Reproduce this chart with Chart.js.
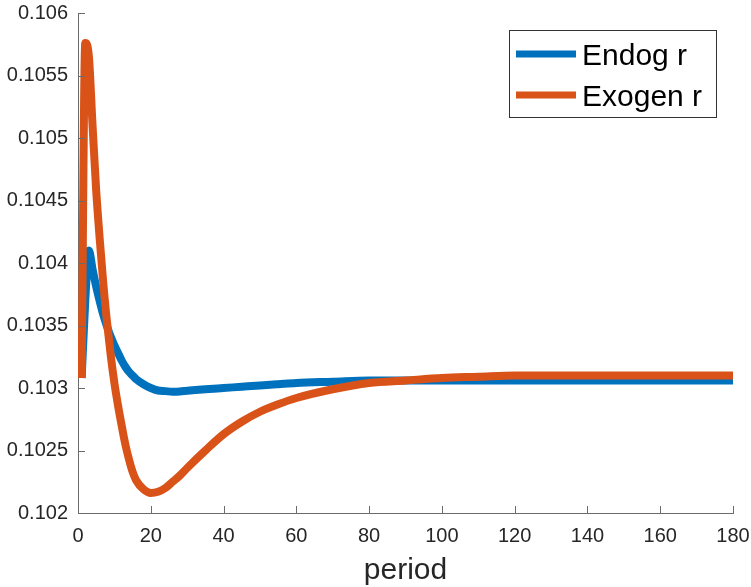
<!DOCTYPE html>
<html>
<head>
<meta charset="utf-8">
<script src="https://cdn.jsdelivr.net/npm/chart.js@4"></script>
<style>
  html, body { margin: 0; padding: 0; background: #fff; }
</style>
</head>
<body>
<canvas id="rateChart" width="751" height="587"></canvas>
<script>
const periods = [1, 2, 3, 4, 5, 6, 7, 8, 9, 10, 11, 12, 13, 14, 15, 16, 18, 20, 22, 24, 26, 28, 30,
  35, 40, 45, 50, 55, 60, 70, 80, 90, 100, 110, 120, 130, 140, 150, 160, 170, 180];

const endogR = [0.10308, 0.10370, 0.10410, 0.10395, 0.10381, 0.10369, 0.10358, 0.10349, 0.10341, 0.10334,
  0.10328, 0.10322, 0.10317, 0.10313, 0.10310, 0.10307, 0.10303, 0.10300, 0.10298, 0.102975, 0.10297, 0.102972, 0.102978,
  0.10299, 0.10300, 0.10301, 0.10302, 0.10303, 0.10304, 0.10305, 0.10306, 0.10306, 0.10306,
  0.10306, 0.10306, 0.10306, 0.10306, 0.10306, 0.10306, 0.10306, 0.10306];

const exogenR = [0.10308, 0.10576, 0.10565, 0.10510, 0.10458, 0.10418, 0.10382, 0.10352, 0.10326, 0.10304,
  0.10286, 0.10270, 0.10255, 0.10243, 0.10233, 0.10226, 0.10219, 0.10216, 0.10217, 0.10220, 0.10225, 0.10230, 0.10236,
  0.10250, 0.10263, 0.10273, 0.10281, 0.10287, 0.10292, 0.10299, 0.10304, 0.10306, 0.10308,
  0.10309, 0.10310, 0.10310, 0.10310, 0.10310, 0.10310, 0.10310, 0.10310];

const seriesNames = ['Endog r', 'Exogen r'];
const seriesColors = ['#0072BD', '#D95319'];

const xTicks = [0, 20, 40, 60, 80, 100, 120, 140, 160, 180];
const yTicks = [0.102, 0.1025, 0.103, 0.1035, 0.104, 0.1045, 0.105, 0.1055, 0.106];
const yTickLabels = ['0.102', '0.1025', '0.103', '0.1035', '0.104', '0.1045', '0.105', '0.1055', '0.106'];

const FONT = '"Liberation Sans", Helvetica, Arial, sans-serif';
const axisColor = '#6b6b6b';
const textColor = '#262626';

// MATLAB style: short ticks pointing into the plot
const inwardTicks = {
  id: 'inwardTicks',
  afterDraw(chart) {
    const { ctx, chartArea: a, scales: { x, y } } = chart;
    ctx.save();
    ctx.strokeStyle = axisColor;
    ctx.lineWidth = 1;
    ctx.beginPath();
    xTicks.forEach(v => {
      const px = Math.round(x.getPixelForValue(v)) + 0.5;
      ctx.moveTo(px, a.bottom);
      ctx.lineTo(px, a.bottom - 7);
    });
    yTicks.forEach(v => {
      const py = Math.round(y.getPixelForValue(v)) + 0.5;
      ctx.moveTo(a.left, py);
      ctx.lineTo(a.left + 7, py);
    });
    ctx.stroke();
    ctx.restore();
  }
};

// boxed legend in the upper right of the axes
const boxLegend = {
  id: 'boxLegend',
  afterDraw(chart) {
    const { ctx } = chart;
    const left = 509, top = 30, w = 207, h = 87;
    ctx.save();
    ctx.fillStyle = '#fff';
    ctx.fillRect(left, top, w, h);
    ctx.strokeStyle = '#333';
    ctx.lineWidth = 1;
    ctx.strokeRect(left + 0.5, top + 0.5, w, h);
    ctx.font = '30px ' + FONT;
    ctx.textBaseline = 'alphabetic';
    ctx.textAlign = 'left';
    seriesNames.forEach((name, i) => {
      const cy = 54 + i * 41;
      ctx.strokeStyle = seriesColors[i];
      ctx.lineWidth = 7;
      ctx.beginPath();
      ctx.moveTo(516, cy);
      ctx.lineTo(576, cy);
      ctx.stroke();
      ctx.fillStyle = '#000';
      ctx.fillText(name, 582, cy + 11);
    });
    ctx.restore();
  }
};

new Chart(document.getElementById('rateChart'), {
  type: 'line',
  data: {
    datasets: [
      {
        label: seriesNames[0],
        data: periods.map((p, i) => ({ x: p, y: endogR[i] })),
        borderColor: seriesColors[0],
        borderWidth: 8,
        pointRadius: 0,
        cubicInterpolationMode: 'monotone',
        borderJoinStyle: 'round',
        order: 2
      },
      {
        label: seriesNames[1],
        data: periods.map((p, i) => ({ x: p, y: exogenR[i] })),
        borderColor: seriesColors[1],
        borderWidth: 8,
        pointRadius: 0,
        cubicInterpolationMode: 'monotone',
        borderJoinStyle: 'round',
        order: 1
      }
    ]
  },
  options: {
    responsive: false,
    animation: false,
    layout: { padding: { top: 13, right: 18, left: 0, bottom: 0 } },
    plugins: {
      legend: { display: false },
      tooltip: { enabled: false }
    },
    scales: {
      x: {
        type: 'linear',
        min: 0,
        max: 180,
        afterBuildTicks: axis => { axis.ticks = xTicks.map(v => ({ value: v })); },
        afterFit: axis => {
          axis.height = 74;
          axis.paddingLeft = 0;
          axis.paddingRight = 0;
        },
        grid: { display: false, drawTicks: false },
        border: { display: true, color: axisColor, width: 1 },
        ticks: {
          padding: 11,
          maxRotation: 0,
          color: textColor,
          font: { family: FONT, size: 20 }
        },
        title: {
          display: true,
          text: 'period',
          color: textColor,
          font: { family: FONT, size: 30, lineHeight: 1.1 },
          padding: { top: 0, bottom: 0 }
        }
      },
      y: {
        type: 'linear',
        min: 0.102,
        max: 0.106,
        afterBuildTicks: axis => { axis.ticks = yTicks.map(v => ({ value: v })); },
        afterFit: axis => {
          axis.width = 78;
          axis.paddingTop = 0;
          axis.paddingBottom = 0;
        },
        grid: { display: false, drawTicks: false },
        border: { display: true, color: axisColor, width: 1 },
        ticks: {
          padding: 10,
          color: textColor,
          font: { family: FONT, size: 20 },
          callback: (v, i) => yTickLabels[i]
        }
      }
    }
  },
  plugins: [inwardTicks, boxLegend]
});
</script>
</body>
</html>
